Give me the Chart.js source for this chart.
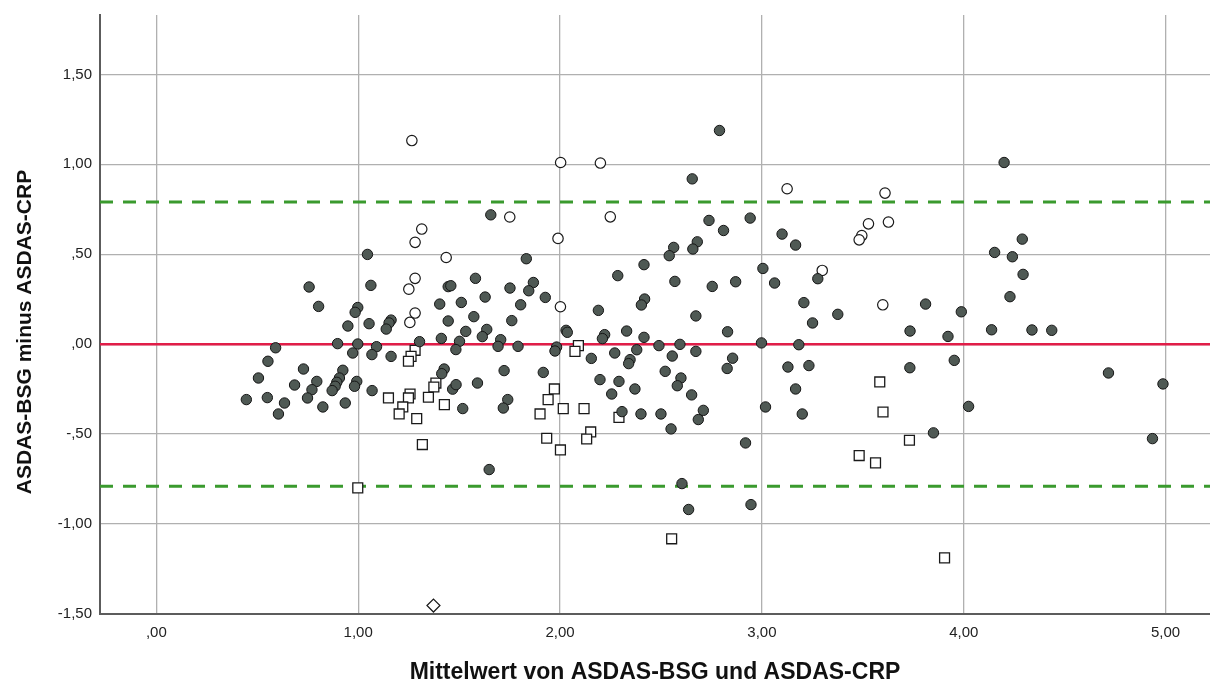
<!DOCTYPE html>
<html>
<head>
<meta charset="utf-8">
<title>Bland-Altman ASDAS-BSG / ASDAS-CRP</title>
<script src="https://cdn.jsdelivr.net/npm/chart.js@4/dist/chart.umd.min.js"></script>
<style>
  html, body { margin: 0; padding: 0; background: #fff; }
  #wrap { width: 1210px; height: 684px; }
</style>
</head>
<body>
<div id="wrap"><canvas id="myChart" width="1210" height="684"></canvas></div>
<script>
// axis ranges and ticks
const X_MIN = -0.279;
const X_MAX = 5.22;
const Y_MIN = -1.5;
const Y_MAX = 1.83;
const xTicks = [0, 1, 2, 3, 4, 5];
const xTickLabels = [',00', '1,00', '2,00', '3,00', '4,00', '5,00'];
const yTicks = [-1.5, -1, -0.5, 0, 0.5, 1, 1.5];
const yTickLabels = ['-1,50', '-1,00', '-,50', ',00', ',50', '1,00', '1,50'];

// mean difference and limits of agreement
const meanDiff = 0;
const upperLoA = 0.79;
const lowerLoA = -0.79;

// [mean, difference] pairs, one list per marker group
const filledPts = [
  [1.046, 0.499], [0.757, 0.318], [1.063, 0.327], [1.446, 0.32], [0.804, 0.21],
  [0.998, 0.204], [0.985, 0.177], [1.404, 0.223], [0.949, 0.101], [1.054, 0.114],
  [1.163, 0.134], [1.153, 0.118], [1.139, 0.084], [1.446, 0.129], [1.412, 0.032],
  [1.304, 0.014], [0.591, -0.02], [0.898, 0.003], [0.998, 0.001], [1.091, -0.014],
  [0.553, -0.095], [0.973, -0.049], [1.068, -0.058], [1.163, -0.068], [0.506, -0.188],
  [0.446, -0.308], [0.55, -0.297], [0.635, -0.327], [0.605, -0.388], [0.729, -0.138],
  [0.685, -0.227], [0.795, -0.207], [0.771, -0.253], [0.749, -0.299], [0.825, -0.349],
  [0.924, -0.145], [0.907, -0.188], [0.894, -0.212], [0.886, -0.234], [0.871, -0.258],
  [0.936, -0.327], [0.993, -0.207], [0.982, -0.234], [1.069, -0.258], [1.426, -0.138],
  [1.414, -0.164], [1.468, -0.25], [1.485, -0.225],
  [1.657, 0.719], [1.833, 0.475], [2.563, 0.538], [2.541, 0.492], [2.416, 0.442],
  [2.286, 0.381], [1.459, 0.325], [1.581, 0.366], [1.752, 0.312], [1.868, 0.343],
  [1.845, 0.297], [1.927, 0.26], [1.629, 0.262], [1.511, 0.232], [1.805, 0.219],
  [2.419, 0.251], [2.403, 0.218], [2.19, 0.188], [1.573, 0.153], [1.761, 0.131],
  [1.533, 0.071], [1.637, 0.082], [1.615, 0.042], [1.706, 0.025], [2.03, 0.077],
  [2.036, 0.066], [2.221, 0.053], [2.21, 0.031], [2.33, 0.073], [2.416, 0.038],
  [1.502, 0.016], [1.484, -0.03], [1.693, -0.012], [1.792, -0.012], [1.983, -0.016],
  [1.975, -0.038], [2.49, -0.008], [2.155, -0.079], [2.271, -0.049], [2.38, -0.031],
  [2.347, -0.086], [2.34, -0.108], [2.556, -0.066], [1.518, -0.358], [1.591, -0.216],
  [1.723, -0.147], [1.741, -0.308], [1.719, -0.355], [1.917, -0.157], [1.649, -0.697],
  [2.307, -0.375], [2.198, -0.197], [2.292, -0.207], [2.256, -0.277], [2.371, -0.249],
  [2.401, -0.388], [2.5, -0.388], [2.521, -0.151], [2.55, -0.471],
  [2.79, 1.188], [2.655, 0.919], [2.738, 0.688], [2.942, 0.701], [2.81, 0.632],
  [3.1, 0.612], [3.167, 0.551], [2.68, 0.569], [2.658, 0.529], [2.569, 0.349],
  [2.754, 0.321], [2.87, 0.347], [3.005, 0.421], [3.063, 0.34], [3.277, 0.364],
  [3.208, 0.231], [3.251, 0.118], [3.376, 0.166], [2.673, 0.157], [2.83, 0.069],
  [2.594, -0.001], [2.998, 0.007], [3.183, -0.003], [2.673, -0.04], [2.855, -0.078],
  [2.828, -0.135], [3.129, -0.127], [3.233, -0.119], [2.599, -0.188], [2.581, -0.231],
  [2.652, -0.282], [3.167, -0.249], [2.71, -0.368], [2.685, -0.419], [3.018, -0.349],
  [3.2, -0.388], [2.919, -0.549], [2.604, -0.775], [2.637, -0.919], [2.946, -0.892],
  [4.2, 1.01], [4.29, 0.584], [4.153, 0.51], [4.241, 0.486], [4.294, 0.388],
  [4.229, 0.264], [3.811, 0.223], [3.988, 0.18], [3.734, 0.073], [3.922, 0.043],
  [4.138, 0.08], [4.338, 0.079], [4.436, 0.077], [3.733, -0.131], [3.953, -0.09],
  [4.717, -0.16], [4.987, -0.221], [4.024, -0.346], [3.85, -0.493], [4.935, -0.525]
];
const openCirclePts = [
  [1.266, 1.132], [1.315, 0.64], [1.282, 0.566], [1.436, 0.482], [1.282, 0.366],
  [1.251, 0.306], [1.282, 0.173], [1.256, 0.121], [2.003, 1.01], [2.2, 1.007],
  [1.751, 0.707], [2.249, 0.708], [1.99, 0.588], [2.002, 0.208], [3.125, 0.864],
  [3.61, 0.84], [3.528, 0.669], [3.495, 0.604], [3.482, 0.58], [3.627, 0.679],
  [3.299, 0.41], [3.599, 0.219]
];
const squarePts = [
  [1.282, -0.034], [1.262, -0.068], [1.249, -0.095], [1.385, -0.216], [1.375, -0.238],
  [1.15, -0.299], [1.257, -0.277], [1.249, -0.299], [1.221, -0.349], [1.203, -0.388],
  [1.29, -0.414], [1.348, -0.295], [1.427, -0.336], [1.318, -0.558], [0.998, -0.799],
  [2.091, -0.008], [2.074, -0.04], [1.972, -0.249], [1.941, -0.308], [1.901, -0.388],
  [2.016, -0.358], [2.119, -0.358], [1.934, -0.523], [2.002, -0.588], [2.152, -0.488],
  [2.132, -0.527], [2.292, -0.407], [2.553, -1.082], [3.584, -0.21], [3.6, -0.377],
  [3.482, -0.619], [3.563, -0.66], [3.731, -0.534], [3.905, -1.188]
];
const diamondPts = [[1.373, -1.453]];

const FONT = "'Liberation Sans', Arial, sans-serif";

function toXY(list) {
  return list.map(p => ({x: p[0], y: p[1]}));
}
function hLine(y) {
  return [{x: X_MIN, y: y}, {x: X_MAX, y: y}];
}

// rotated y title, drawn by hand so it can sit a bit below the axis centre
const yTitlePlugin = {
  id: 'yTitle',
  afterDraw(chart) {
    const ctx = chart.ctx;
    ctx.save();
    ctx.translate(25, 332);
    ctx.rotate(-Math.PI / 2);
    ctx.font = 'bold 21px ' + FONT;
    ctx.fillStyle = '#111';
    ctx.textAlign = 'center';
    ctx.textBaseline = 'middle';
    ctx.fillText('ASDAS-BSG minus ASDAS-CRP', 0, 0);
    ctx.restore();
  }
};

var ctx = document.getElementById('myChart');
const chart = new Chart(ctx, {
  type: 'scatter',
  data: {
    datasets: [
      {
        label: 'filled',
        data: toXY(filledPts),
        pointStyle: 'circle',
        pointRadius: 5.2,
        backgroundColor: '#4f5954',
        borderColor: '#151515',
        borderWidth: 1
      },
      {
        label: 'open',
        data: toXY(openCirclePts),
        pointStyle: 'circle',
        pointRadius: 5.2,
        backgroundColor: '#ffffff',
        borderColor: '#1a1a1a',
        borderWidth: 1.2
      },
      {
        label: 'square',
        data: toXY(squarePts),
        pointStyle: 'rect',
        pointRadius: 7,
        backgroundColor: '#ffffff',
        borderColor: '#1a1a1a',
        borderWidth: 1.3
      },
      {
        label: 'diamond',
        data: toXY(diamondPts),
        pointStyle: 'rectRot',
        pointRadius: 6.5,
        backgroundColor: '#ffffff',
        borderColor: '#1a1a1a',
        borderWidth: 1.2
      },
      {
        type: 'line',
        label: 'mean',
        data: hLine(meanDiff),
        borderColor: '#e11d48',
        borderWidth: 2.5,
        pointRadius: 0,
        showLine: true
      },
      {
        type: 'line',
        label: 'upper',
        data: hLine(upperLoA),
        borderColor: '#3a9a2e',
        borderWidth: 3,
        borderDash: [13, 10],
        pointRadius: 0,
        showLine: true
      },
      {
        type: 'line',
        label: 'lower',
        data: hLine(lowerLoA),
        borderColor: '#3a9a2e',
        borderWidth: 3,
        borderDash: [13, 10],
        pointRadius: 0,
        showLine: true
      }
    ]
  },
  options: {
    responsive: false,
    animation: false,
    events: [],
    // no extra room for marker overflow: the plot runs to the right edge
    layout: {autoPadding: false, padding: {top: 15, right: 0, left: 0, bottom: 0}},
    plugins: {legend: {display: false}, tooltip: {enabled: false}},
    scales: {
      x: {
        type: 'linear',
        min: X_MIN,
        max: X_MAX,
        afterBuildTicks: s => { s.ticks = xTicks.map(v => ({value: v})); },
        afterFit: s => { s.height = 70; s.paddingLeft = 0; s.paddingRight = 0; },
        ticks: {
          padding: 10,
          color: '#222',
          font: {family: FONT, size: 15},
          maxRotation: 0,
          callback: (v, i) => xTickLabels[i]
        },
        grid: {color: '#b0b0b0', lineWidth: 1.3, drawTicks: false},
        border: {color: '#5c5c5c', width: 2},
        title: {
          display: true,
          text: 'Mittelwert von ASDAS-BSG und ASDAS-CRP',
          color: '#111',
          font: {family: FONT, size: 23, weight: 'bold', lineHeight: 1},
          padding: {top: 0, bottom: 0}
        }
      },
      y: {
        type: 'linear',
        min: Y_MIN,
        max: Y_MAX,
        afterBuildTicks: s => { s.ticks = yTicks.map(v => ({value: v})); },
        afterFit: s => { s.width = 100; s.paddingTop = 0; s.paddingBottom = 0; },
        ticks: {
          padding: 8,
          color: '#222',
          font: {family: FONT, size: 15},
          callback: (v, i) => yTickLabels[i]
        },
        grid: {color: '#b0b0b0', lineWidth: 1.3, drawTicks: false},
        border: {color: '#5c5c5c', width: 2}
      }
    }
  },
  plugins: [yTitlePlugin]
});
</script>
</body>
</html>
